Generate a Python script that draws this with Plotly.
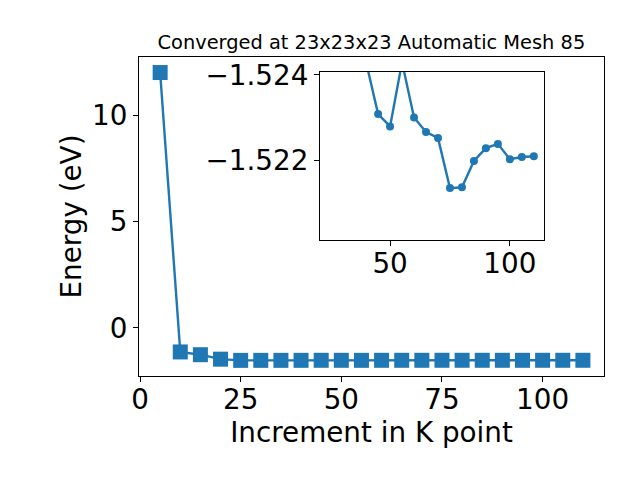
import plotly.graph_objects as go

kpoints = [5, 10, 15, 20, 25, 30, 35, 40, 45, 50, 55, 60, 65, 70, 75, 80, 85, 90, 95, 100, 105, 110]
energy = [12.0, -1.13, -1.26, -1.47, -1.5262, -1.5255, -1.5249, -1.5243, -1.52308, -1.52279, -1.5243,
          -1.52300, -1.52266, -1.52252, -1.52134, -1.52136, -1.52198, -1.52228, -1.52238, -1.52202,
          -1.52207, -1.52209]
inset_start = 4  # inset shows points from k = 25 onward

blue = "#1f77b4"
font = "DejaVu Sans"

fig = go.Figure()
fig.add_trace(go.Scatter(x=kpoints, y=energy, mode="lines+markers",
                         line=dict(color=blue, width=2.4),
                         marker=dict(symbol="square", size=15, color=blue),
                         showlegend=False, cliponaxis=True))
fig.add_trace(go.Scatter(x=kpoints[inset_start:], y=energy[inset_start:], mode="lines+markers",
                         line=dict(color=blue, width=2.4),
                         marker=dict(symbol="circle", size=8, color=blue),
                         xaxis="x2", yaxis="y2", showlegend=False))

axis_common = dict(showline=True, linecolor="black", linewidth=1, mirror=True,
                   ticks="outside", ticklen=5, tickcolor="black", showgrid=False,
                   zeroline=False, automargin=False,
                   tickfont=dict(family=font, size=27.8, color="black"))

fig.update_layout(
    width=640, height=480,
    margin=dict(l=0, r=0, t=0, b=0),
    plot_bgcolor="white", paper_bgcolor="white",
    font=dict(family=font, color="black"),
    title=dict(text="Converged at 23x23x23 Automatic Mesh 85", x=0.5803, xanchor="center",
               y=0.912, yanchor="middle", automargin=False,
               font=dict(family=font, size=19.4, color="black")),
    xaxis=dict(domain=[0.2172, 0.9438], range=[-0.25, 115.25], tickvals=[0, 25, 50, 75, 100],
               ticklabelstandoff=-6,
               title=dict(text="Increment in K point", font=dict(family=font, size=27.8), standoff=4),
               **axis_common),
    yaxis=dict(domain=[0.2167, 0.88125], range=[-2.26, 12.73], tickvals=[0, 5, 10],
               title=dict(text="Energy (eV)", font=dict(family=font, size=27.8), standoff=2),
               **axis_common),
    xaxis2=dict(domain=[0.5, 0.85], anchor="y2", range=[20.75, 114.25], tickvals=[50, 100],
                ticklabelstandoff=-6, **axis_common),
    yaxis2=dict(domain=[0.5, 0.85], anchor="x2", range=[-1.52012, -1.52407],
                tickvals=[-1.524, -1.522], tickformat=".3f", **axis_common),
)
fig.write_html("out.html", config={"displayModeBar": False},
               post_script="document.body.style.margin='0';")
